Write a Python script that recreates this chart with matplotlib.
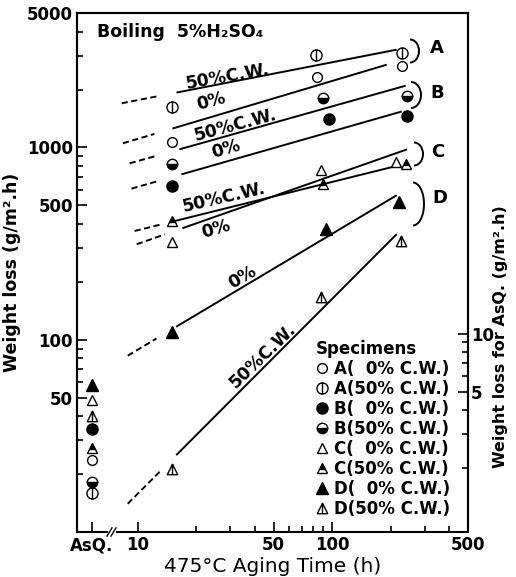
import numpy as np
import matplotlib
matplotlib.use('Agg')
import matplotlib.pyplot as plt
from matplotlib.path import Path
from matplotlib.lines import Line2D
from matplotlib.patches import Arc
from matplotlib.ticker import FixedLocator, FixedFormatter, NullFormatter

plt.rcParams['font.family'] = ['DejaVu Sans']

# ---------------- data ----------------
specimens = ['A0', 'A50', 'B0', 'B50', 'C0', 'C50', 'D0', 'D50']
legend_labels = ['A(  0% C.W.)', 'A(50% C.W.)', 'B(  0% C.W.)', 'B(50% C.W.)',
                 'C(  0% C.W.)', 'C(50% C.W.)', 'D(  0% C.W.)', 'D(50% C.W.)']

# aged specimens: aging time (h) and weight loss (g/m2.h)
A0_time = [15, 84, 228];  A0_loss = [1062, 2335, 2660]
A50_time = [15, 83, 228]; A50_loss = [1630, 3034, 3107]
B0_time = [15, 96, 243];  B0_loss = [628, 1413, 1448]
B50_time = [15, 90, 243]; B50_loss = [817, 1815, 1860]
C0_time = [15, 88, 213];  C0_loss = [322, 760, 836]
C50_time = [15, 90, 240]; C50_loss = [414, 643, 817]
D0_time = [15, 93, 222];  D0_loss = [110, 376, 519]
D50_time = [15, 88, 225]; D50_loss = [21.2, 167, 326]

# as-quenched weight loss (right axis, g/m2.h), same order as specimens
asq_loss = [2.20, 1.48, 3.18, 1.69, 4.50, 2.54, 5.38, 3.72]

# trend lines: [dash start, dash end, solid start, solid end] (h), loss at solid start/end
A0_fit_t = [8.4, 12.2, 15.1, 191];   A0_fit_w = [1253, 2692]
A50_fit_t = [8.28, 12.5, 15.85, 215]; A50_fit_w = [1928, 3223]
B0_fit_t = [9.3, 12.7, 16.8, 228];   B0_fit_w = [724, 1537]
B50_fit_t = [9.1, 12.5, 16.4, 239];  B50_fit_w = [977, 2094]
C0_fit_t = [9.9, 13.8, 17.0, 243];   C0_fit_w = [380, 977]
C50_fit_t = [9.65, 13.4, 15.5, 221]; C50_fit_w = [414, 807]
D0_fit_t = [8.9, 12.5, 15.8, 215];   D0_fit_w = [116.8, 564]
D50_fit_t = [8.9, 13.0, 15.8, 215];  D50_fit_w = [25.1, 354]

# line labels
line_labels = ['0%', '50%C.W.', '0%', '50%C.W.', '0%', '50%C.W.', '0%', '50%C.W.']
label_t = [23.9, 28.9, 28.6, 31.8, 25.4, 27.9, 34.5, 43.8]
label_w = [1730, 2333, 977, 1300, 376, 551, 212, 82.6]
label_rot = [15, 10, 16, 15, 16, 13, 30, 44]

x_ticks = [10, 50, 100, 500]
x_minor = [20, 30, 40, 60, 70, 80, 90, 200, 300, 400]
y_ticks = [50, 100, 500, 1000, 5000]
y_minor = [20, 30, 40, 60, 70, 80, 90, 200, 300, 400, 600, 700, 800, 900, 2000, 3000, 4000]
y2_ticks = [5, 10]
y2_minor = [2, 3, 4, 6, 7, 8, 9]
asq_x = 5.8

times = [A0_time, A50_time, B0_time, B50_time, C0_time, C50_time, D0_time, D50_time]
losses = [A0_loss, A50_loss, B0_loss, B50_loss, C0_loss, C50_loss, D0_loss, D50_loss]
fits_t = [A0_fit_t, A50_fit_t, B0_fit_t, B50_fit_t, C0_fit_t, C50_fit_t, D0_fit_t, D50_fit_t]
fits_w = [A0_fit_w, A50_fit_w, B0_fit_w, B50_fit_w, C0_fit_w, C50_fit_w, D0_fit_w, D50_fit_w]

# ---------------- marker styles ----------------
vline = Path([[0, -1], [0, 1]], [Path.MOVETO, Path.LINETO])
circ_bar = Path.make_compound_path(Path.unit_circle(), vline)
tri = Path([[0, 1], [-1, -1], [1, -1], [0, 1]],
           [Path.MOVETO, Path.LINETO, Path.LINETO, Path.CLOSEPOLY])
tri_bar = Path.make_compound_path(tri, Path([[0, 1], [0, -1]], [Path.MOVETO, Path.LINETO]))

styles = {
    'A0': dict(marker='o', markersize=7, markerfacecolor='white'),
    'A50': dict(marker=circ_bar, markersize=8, markerfacecolor='white'),
    'B0': dict(marker='o', markersize=8, markerfacecolor='black'),
    'B50': dict(marker='o', markersize=7.5, markerfacecolor='black', fillstyle='bottom',
                markerfacecoloralt='white'),
    'C0': dict(marker='^', markersize=7.5, markerfacecolor='white'),
    'C50': dict(marker='^', markersize=7.5, markerfacecolor='black', fillstyle='top',
                markerfacecoloralt='white'),
    'D0': dict(marker='^', markersize=8, markerfacecolor='black'),
    'D50': dict(marker=tri_bar, markersize=7.5, markerfacecolor='white'),
}

def logline(ta, wa, tb, wb, t):
    s = (np.log10(wb) - np.log10(wa)) / (np.log10(tb) - np.log10(ta))
    return 10 ** (np.log10(wa) + s * (np.log10(np.asarray(t)) - np.log10(ta)))

# ---------------- figure ----------------
W, H = 516, 577
fig = plt.figure(figsize=(W / 100, H / 100), dpi=100)
ax = fig.add_axes([77 / W, 1 - 532 / H, (468 - 77) / W, (532 - 13) / H])
ax.set_xscale('log'); ax.set_yscale('log')
ax.set_xlim(4.88, 500); ax.set_ylim(10, 5000)

lw = 1.4
for key, tt, ww, ft, fw in zip(specimens, times, losses, fits_t, fits_w):
    solid_t = np.array([ft[2], ft[3]])
    ax.plot(solid_t, logline(ft[2], fw[0], ft[3], fw[1], solid_t), color='black', lw=lw,
            solid_capstyle='butt', zorder=2)
    dash_t = np.array([ft[0], ft[1]])
    ax.plot(dash_t, logline(ft[2], fw[0], ft[3], fw[1], dash_t), color='black', lw=lw,
            dashes=(3.2, 1.8), zorder=2)
    ax.plot(tt, ww, linestyle='none', markeredgecolor='black', markeredgewidth=1.0,
            zorder=3, **styles[key])

for txt, t, w, r in zip(line_labels, label_t, label_w, label_rot):
    ax.text(t, w, txt, rotation=r, rotation_mode='anchor', ha='center', va='center',
            fontsize=12.5, fontweight='bold')

# right axis for as-quenched specimens
ax2 = ax.twinx()
ax2.set_yscale('log')
ax2.set_ylim(0.93, 465)
for key, v in zip(specimens, asq_loss):
    ax2.plot([asq_x], [v], linestyle='none', markeredgecolor='black', markeredgewidth=1.0,
             zorder=3, clip_on=False, **styles[key])

# ticks
ax.xaxis.set_major_locator(FixedLocator([asq_x] + x_ticks))
ax.xaxis.set_major_formatter(FixedFormatter(['AsQ.'] + [str(v) for v in x_ticks]))
ax.xaxis.set_minor_locator(FixedLocator(x_minor))
ax.xaxis.set_minor_formatter(NullFormatter())
ax.yaxis.set_major_locator(FixedLocator(y_ticks))
ax.yaxis.set_major_formatter(FixedFormatter([str(v) for v in y_ticks]))
ax.yaxis.set_minor_locator(FixedLocator(y_minor))
ax.yaxis.set_minor_formatter(NullFormatter())
ax.tick_params(which='both', direction='in', width=1.2, right=False, top=False)
ax.tick_params(which='major', length=7)
ax.tick_params(which='minor', length=4)
ax.tick_params(axis='y', pad=3, labelsize=12)
ax.tick_params(axis='x', pad=3, labelsize=12)
for lab in ax.get_xticklabels() + ax.get_yticklabels():
    lab.set_fontweight('bold')

ax2.yaxis.set_major_locator(FixedLocator(y2_ticks))
ax2.yaxis.set_major_formatter(FixedFormatter([str(v) for v in y2_ticks]))
ax2.yaxis.set_minor_locator(FixedLocator(y2_minor))
ax2.yaxis.set_minor_formatter(NullFormatter())
ax2.tick_params(which='both', direction='in', width=1.2, labelsize=12, pad=2)
ax2.tick_params(which='major', length=7)
ax2.tick_params(which='minor', length=4)
for lab in ax2.get_yticklabels():
    lab.set_fontweight('bold')

for sp in ax.spines.values():
    sp.set_linewidth(1.5)
for sp in ax2.spines.values():
    sp.set_linewidth(1.5)
ax.spines['bottom'].set_visible(False)
ax2.spines['bottom'].set_visible(False)

# broken bottom axis
bx0, bx1 = (108 - 77) / 391, (116 - 77) / 391
ax.plot([0, bx0], [0, 0], transform=ax.transAxes, color='black', lw=1.5, clip_on=False,
        solid_capstyle='butt')
ax.plot([bx1, 1], [0, 0], transform=ax.transAxes, color='black', lw=1.5, clip_on=False,
        solid_capstyle='butt')
for off in (0, 4):
    ax.plot([(107 + off - 77) / 391, (112 + off - 77) / 391], [-0.008, 0.008],
            transform=ax.transAxes, color='black', lw=1.0, clip_on=False)

# axis labels
ax.set_xlabel('475°C Aging Time (h)', fontsize=14.5, labelpad=2)
ax.set_ylabel('Weight loss (g/m².h)', fontsize=12.5, fontweight='bold', labelpad=4)
fig.text(500 / W, 1 - 337 / H, 'Weight loss for AsQ. (g/m².h)', rotation=90,
         ha='center', va='center', fontsize=11.5, fontweight='bold')

# title
fig.text(97 / W, 1 - 32 / H, 'Boiling  5%H₂SO₄', fontsize=12.5, fontweight='bold',
         va='center', ha='left')

# group brackets and letters
def px(x, y):
    return (x / W, 1 - y / H)

brackets = [(410, 51, 9, 23, 'A', 437, 48), (411, 95, 10, 26, 'B', 437, 93),
            (414, 154, 9, 23, 'C', 438, 152), (413, 204, 11, 43, 'D', 440, 198)]
for cx, cy, hw, hh, letter, lx, ly in brackets:
    arc = Arc(px(cx, cy), 2 * hw / W, hh / H, theta1=-90, theta2=90,
              transform=fig.transFigure, color='black', lw=1.4)
    fig.add_artist(arc)
    fig.text(lx / W, 1 - ly / H, letter, ha='center', va='center', fontsize=13,
             fontweight='bold')

# legend
handles = [Line2D([], [], linestyle='none', markeredgecolor='black', markeredgewidth=1.0,
                  **styles[k]) for k in specimens]
leg = ax.legend(handles, legend_labels, title='Specimens', loc='upper left',
                bbox_to_anchor=((316 - 77) / 391, (532 - 340) / 519), frameon=False,
                prop=dict(size=12, weight='bold'), handlelength=0.7, handletextpad=0.35,
                labelspacing=0.12, borderpad=0, borderaxespad=0, alignment='left')
leg.get_title().set_fontsize(12)
leg.get_title().set_fontweight('bold')

fig.savefig('out.png', dpi=100)
